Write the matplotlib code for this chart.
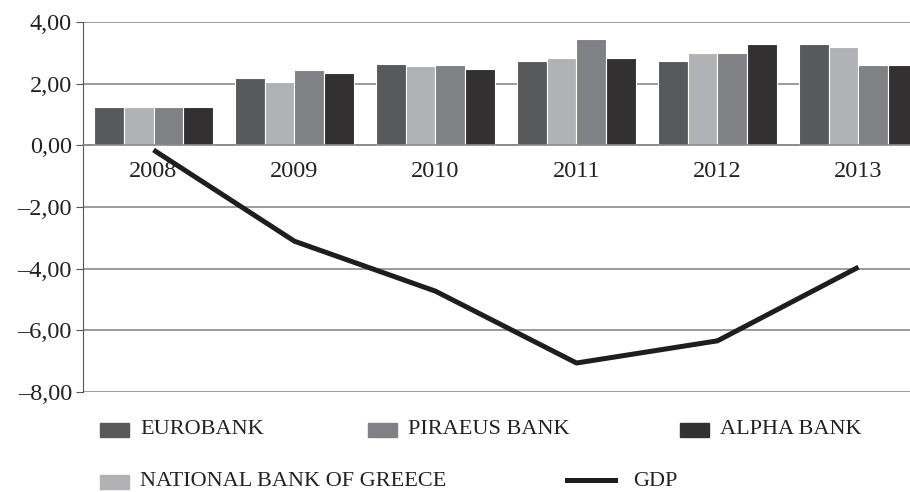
import numpy as np
import matplotlib
matplotlib.use("Agg")
import matplotlib.pyplot as plt
from matplotlib.patches import Rectangle
from matplotlib.lines import Line2D

plt.rcParams['font.family'] = ['Liberation Serif', 'DejaVu Serif']

# data
years     = ["2008", "2009", "2010", "2011", "2012", "2013"]
eurobank  = [1.23, 2.20, 2.65, 2.75, 2.72, 3.30]
national  = [1.23, 2.04, 2.56, 2.82, 3.01, 3.20]
piraeus   = [1.23, 2.43, 2.62, 3.46, 3.01, 2.62]
alpha     = [1.23, 2.36, 2.49, 2.82, 3.30, 2.62]
gdp       = [-0.15, -3.11, -4.73, -7.06, -6.34, -3.95]

series = [("EUROBANK", eurobank, "#58595b"),
          ("NATIONAL BANK OF GREECE", national, "#b1b2b5"),
          ("PIRAEUS BANK", piraeus, "#808184"),
          ("ALPHA BANK", alpha, "#323031")]

fig = plt.figure(figsize=(9.1, 4.92), dpi=100)
ax = fig.add_axes([83/910, 1 - 392/492, 846/910, 370/492])

x = np.arange(len(years))
w = 0.211
for i, (name, vals, col) in enumerate(series):
    ax.bar(x + (i - 1.5) * w, vals, w, color=col, edgecolor="white", linewidth=0.8, zorder=2)

ax.plot(x, gdp, color="#1e1e1e", linewidth=3.6, solid_capstyle="butt", zorder=3)

ax.set_xlim(-0.5, 5.5)
ax.set_ylim(-8, 4)
ax.spines["bottom"].set_position(("data", 0))  # do this before styling ticks, it resets them

yt = np.arange(-8, 5, 2)
ax.set_yticks(yt)
ax.set_yticklabels([f"{v:.2f}".replace(".", ",").replace("-", "\u2013") for v in yt])
ax.yaxis.grid(True, color="#8a8a8a", linewidth=1.2, zorder=0)
ax.set_axisbelow(True)

ax.set_xticks(x)
ax.set_xticklabels(years)
ax.tick_params(axis="x", length=0, pad=11, labelsize=17.5, labelcolor="#222222")
ax.tick_params(axis="y", length=5, color="#555555", pad=3, labelsize=17.5, labelcolor="#222222")
ax.spines["bottom"].set_color("#8a8a8a")
ax.spines["bottom"].set_linewidth(1.2)
ax.spines["left"].set_color("#555555")
ax.spines["right"].set_visible(False)
ax.spines["top"].set_visible(False)

# legend, laid out like the original
def fx(px):
    return px / 910
def fy(py):
    return 1 - py / 492

leg = [("EUROBANK", "#58595b", 100, 430),
       ("PIRAEUS BANK", "#808184", 368, 430),
       ("ALPHA BANK", "#323031", 680, 430),
       ("NATIONAL BANK OF GREECE", "#b1b2b5", 100, 482)]
for name, col, px, py in leg:
    fig.patches.append(Rectangle((fx(px), fy(py + 7)), fx(29), 14/492,
                                 transform=fig.transFigure, color=col))
    fig.text(fx(px + 40), fy(py), name, fontsize=16, va="center", color="#222222")
fig.lines.append(Line2D([fx(567), fx(615)], [fy(480), fy(480)], transform=fig.transFigure,
                        color="#1e1e1e", linewidth=3.6))
fig.text(fx(633), fy(482), "GDP", fontsize=16, va="center", color="#222222")

fig.savefig("out.png", dpi=100)
